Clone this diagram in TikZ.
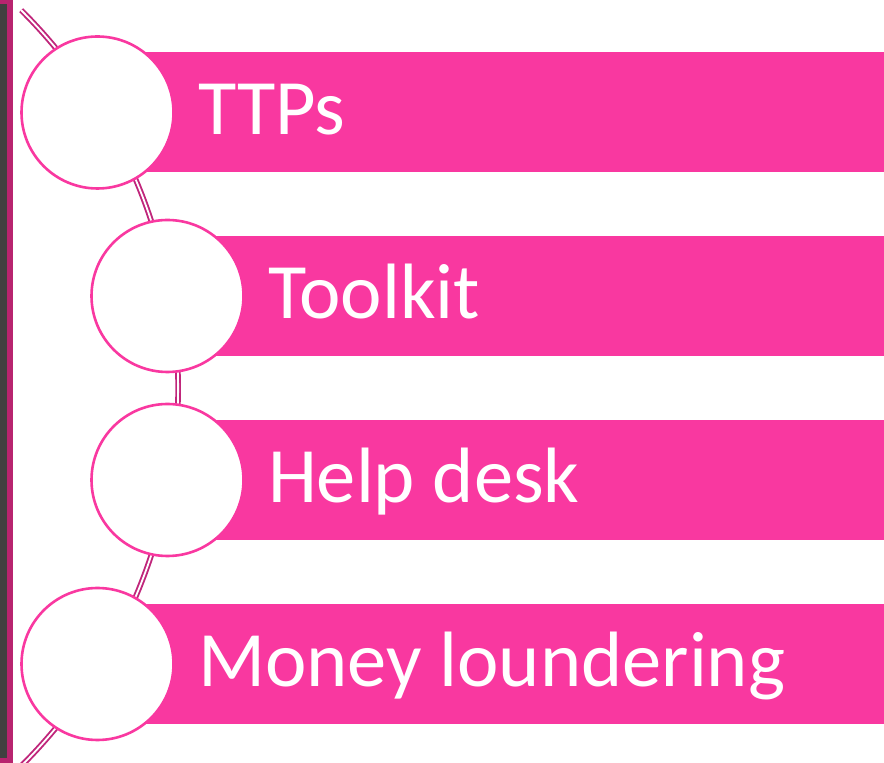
\documentclass[tikz,border=0pt]{standalone}
\usepackage{fontspec}
\setmainfont{Carlito}
\usepackage{xcolor}
\usetikzlibrary{positioning}
\usetikzlibrary{backgrounds}

\definecolor{barpink}{HTML}{F938A0}
\definecolor{spinepink}{HTML}{C0267B}
\definecolor{edgepink}{HTML}{B8246F}
\definecolor{edgegray}{HTML}{404040}

\begin{document}
\begin{tikzpicture}[
					x=1pt, y=1pt,
					node distance=184pt,
					bubble/.style={circle, draw=barpink, line width=2.6pt, fill=white, minimum size=152pt, inner sep=0pt},
					bar/.style={rectangle, fill=barpink, minimum height=120pt, inner sep=0pt, anchor=west},
					itemtext/.style={text=white, font=\fontsize{78.5}{82}\selectfont, inner sep=0pt, text height=53pt, text depth=8pt},
					spine/.style={draw=spinepink, line width=1.9pt, double=white, double distance=1.8pt},
				]
					\useasboundingbox (0,0) rectangle (884,763);
					\clip (0,0) rectangle (884,763);
					
					\node (c1) [bubble] at (97.5,650.5) {};
					\node (c2) [bubble] at (167.5,467) {};
					\node (c3) [bubble, below=of c2.center, anchor=center] {};
					\node (c4) [bubble, below=of c3.center, anchor=center, xshift=-70pt] {};
					
					\node (ttps) [itemtext, right=23pt of c1] {TTPs};
					\node (toolkit) [itemtext, right=23pt of c2] {Toolkit};
					\node (helpdesk) [itemtext, right=23pt of c3] {Help desk};
					\node (money) [itemtext, right=23pt of c4] {Money loundering};
					
					\begin{scope}[on background layer]
						% window edge on the left
						\fill[edgepink] (0,0) rectangle (12.5,763);
						\fill[edgegray] (0,5) rectangle (6.5,759);
						% bars behind the circles
						\node (bar1) [bar, minimum width=786.5pt] at (c1.center) {};
						\node (bar2) [bar, minimum width=716.5pt] at (c2.center) {};
						\node (bar3) [bar, minimum width=716.5pt] at (c3.center) {};
						\node (bar4) [bar, minimum width=786.5pt] at (c4.center) {};
						% curved spine
						\coordinate (spinetop) at (21.2,752.8);
						\draw[spine] (spinetop) arc[start angle=45.1, end angle=-46, radius=533.5pt];
					\end{scope}
				\end{tikzpicture}
\end{document}
